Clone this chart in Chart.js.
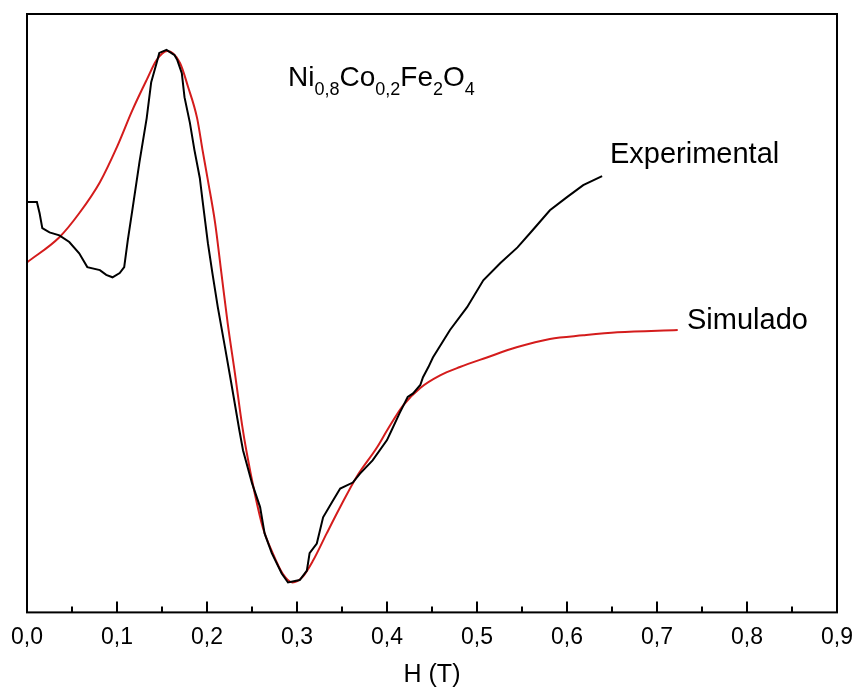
<!DOCTYPE html>
<html>
<head>
<meta charset="utf-8">
<script src="https://cdn.jsdelivr.net/npm/chart.js@4.4.0/dist/chart.umd.min.js"></script>
<style>
html,body{margin:0;padding:0;background:#fff}
#wrap{width:857px;height:697px}
</style>
</head>
<body>
<div id="wrap"><canvas id="myChart" width="857" height="697"></canvas></div>
<script>
// field H (T) and signal (arb. units, 0..100)
const hExp=[0.000,0.011,0.014,0.017,0.025,0.036,0.047,0.058,0.067,0.081,0.088,0.095,0.103,0.108,0.112,0.117,0.125,0.133,0.138,0.144,0.147,0.155,0.164,0.167,0.172,0.175,0.181,0.186,0.192,0.195,0.201,0.206,0.212,0.220,0.227,0.236,0.240,0.250,0.259,0.264,0.272,0.283,0.290,0.303,0.311,0.314,0.322,0.329,0.340,0.348,0.362,0.370,0.384,0.400,0.405,0.414,0.423,0.429,0.437,0.440,0.446,0.451,0.470,0.489,0.507,0.526,0.545,0.562,0.581,0.600,0.618,0.639]
const vExp=[68.6,68.6,66.7,64.2,63.5,63.0,61.9,60.0,57.7,57.2,56.4,56.0,56.7,57.7,62.2,67.2,75.3,82.6,88.6,91.8,93.5,94.0,93.1,92.3,90.1,86.1,81.8,77.3,72.6,68.9,61.7,56.7,51.0,44.3,38.3,30.4,27.1,21.6,17.6,13.2,9.9,6.5,5.0,5.4,7.0,9.9,11.5,15.9,18.7,20.7,21.7,23.2,25.4,28.8,30.4,33.3,36.0,36.6,38.0,39.3,41.0,42.6,47.2,51.0,55.5,58.4,61.0,63.9,67.2,69.4,71.4,72.9]

const hSim=[0.000,0.036,0.058,0.081,0.100,0.117,0.133,0.144,0.156,0.170,0.179,0.189,0.195,0.201,0.209,0.216,0.223,0.231,0.239,0.244,0.253,0.262,0.273,0.284,0.295,0.306,0.318,0.333,0.348,0.366,0.389,0.400,0.418,0.437,0.459,0.481,0.511,0.544,0.581,0.618,0.656,0.723]
const vSim=[58.5,62.7,66.7,71.9,77.8,83.9,89.0,92.3,93.8,91.8,87.8,82.6,77.3,72.2,65.1,56.7,48.3,40.0,31.3,26.8,19.9,14.2,9.9,6.5,5.0,5.9,8.7,13.2,17.6,22.6,27.6,30.4,34.6,37.5,39.6,41.0,42.6,44.3,45.7,46.3,46.8,47.2]

const xTicks=[0,0.1,0.2,0.3,0.4,0.5,0.6,0.7,0.8,0.9]
const minorTicks=[0.05,0.15,0.25,0.35,0.45,0.55,0.65,0.75,0.85]

const fontFam='"Liberation Sans", Arial, sans-serif'

function toPoints(xs,ys){
    return xs.map((x,i)=>({x:x,y:ys[i]}))
}

// frame, inward ticks and the text labels
const framePlugin={
    id:'frame',
    afterDraw(chart){
        const ctx=chart.ctx
        const a=chart.chartArea
        const xs=chart.scales.x
        ctx.save()
        ctx.strokeStyle='#000'
        ctx.lineWidth=2
        ctx.strokeRect(a.left,a.top,a.right-a.left,a.bottom-a.top)
        ctx.beginPath()
        xTicks.forEach(v=>{
            const px=Math.round(xs.getPixelForValue(v))
            ctx.moveTo(px,a.bottom)
            ctx.lineTo(px,a.bottom-11)
        })
        minorTicks.forEach(v=>{
            const px=Math.round(xs.getPixelForValue(v))
            ctx.moveTo(px,a.bottom)
            ctx.lineTo(px,a.bottom-6)
        })
        ctx.stroke()

        ctx.fillStyle='#000'
        ctx.textBaseline='alphabetic'
        ctx.textAlign='left'
        // Ni0,8Co0,2Fe2O4
        const parts=[['Ni',false],['0,8',true],['Co',false],['0,2',true],['Fe',false],['2',true],['O',false],['4',true]]
        let x=288
        parts.forEach(p=>{
            ctx.font=(p[1]?'18px ':'28px ')+fontFam
            ctx.fillText(p[0],x,p[1]?95:86)
            x+=ctx.measureText(p[0]).width
        })
        ctx.font='29px '+fontFam
        ctx.fillText('Experimental',610,163)
        ctx.fillText('Simulado',687,329)
        ctx.restore()
    }
}

const data={
    datasets:[
        {
            label:'Experimental',
            data:toPoints(hExp,vExp),
            borderColor:'#000',
            borderWidth:2,
            pointRadius:0,
            tension:0
        },
        {
            label:'Simulado',
            data:toPoints(hSim,vSim),
            borderColor:'#d41c1c',
            borderWidth:2,
            pointRadius:0,
            cubicInterpolationMode:'monotone'
        }
    ]
}

new Chart(document.getElementById('myChart'),{
    type:'line',
    data:data,
    options:{
        responsive:false,
        animation:false,
        devicePixelRatio:1,
        layout:{padding:{left:27,top:14,right:20,bottom:3}},
        plugins:{legend:{display:false},tooltip:{enabled:false}},
        scales:{
            x:{
                type:'linear',
                min:0,
                max:0.9,
                afterBuildTicks:s=>{s.ticks=xTicks.map(v=>({value:v}))},
                ticks:{
                    callback:v=>v.toFixed(1).replace('.',','),
                    font:{family:fontFam,size:23},
                    color:'#000',
                    padding:3,
                    maxRotation:0,
                    autoSkip:false
                },
                // invisible tick marks only reserve the gap under the frame
                grid:{display:true,drawOnChartArea:false,drawTicks:true,tickLength:8,color:'rgba(0,0,0,0)'},
                border:{display:false},
                title:{display:true,text:'H (T)',color:'#000',font:{family:fontFam,size:25},padding:{top:6,bottom:4}}
            },
            y:{display:false,min:0,max:100}
        }
    },
    plugins:[framePlugin]
})
</script>
</body>
</html>
